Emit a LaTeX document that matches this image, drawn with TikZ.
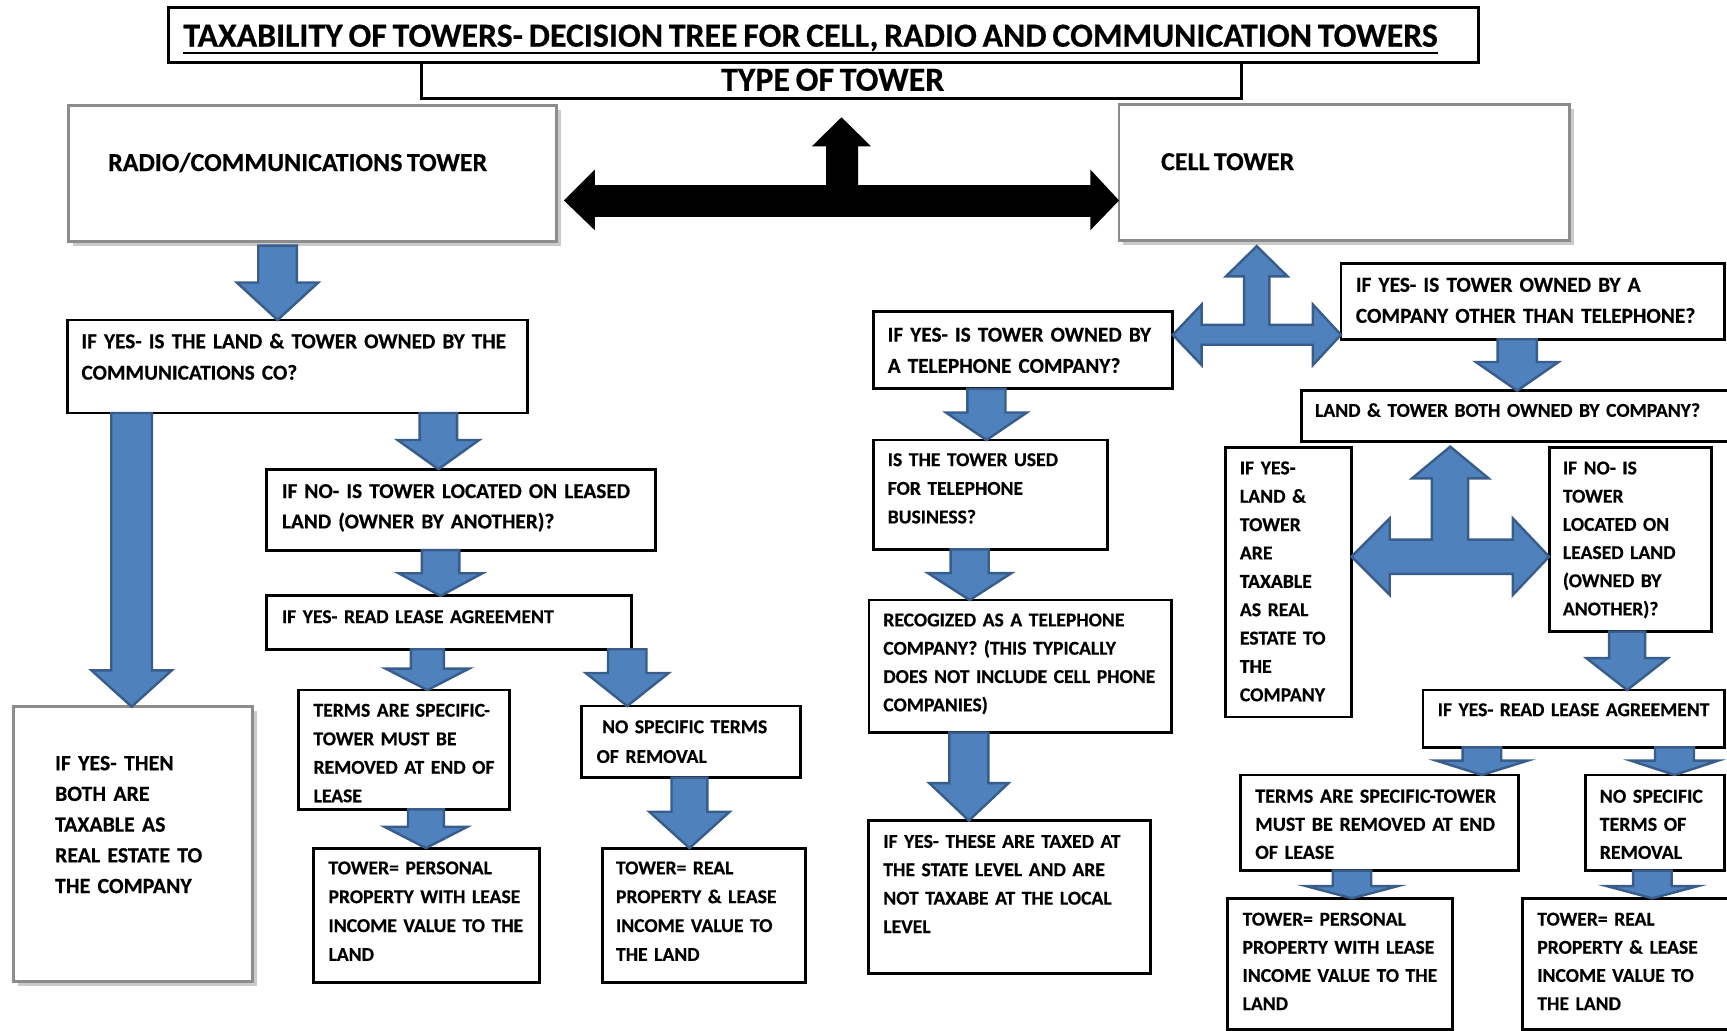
\documentclass[tikz,border=0pt]{standalone}
\usepackage{fontspec}
\setmainfont{Carlito}[BoldFont={Carlito Bold}, WordSpace=0.75, BoldFeatures={FakeBold=0.4}]
\usetikzlibrary{calc,shadows}
\definecolor{arrowblue}{RGB}{79,129,189}
\definecolor{arrowedge}{RGB}{56,93,138}
\newcommand\mkbox[6]{\node[#6, anchor=north west, inner sep=0pt, outer sep=0pt, minimum width={(#4-#2)*1pt}, minimum height={(#5-#3)*1pt}] (#1) at (#2,#3) {};}
% #1 x, #2 from anchor, #3 to anchor, #4 shaft half, #5 head half, #6 head length
\newcommand\vdown[6]{\path[barrow] let \p1=(#2), \p2=(#3) in
  ({(#1-#4)*1pt},\y1) -- ({(#1+#4)*1pt},\y1) -- ({(#1+#4)*1pt},{\y2+#6pt}) -- ({(#1+#5)*1pt},{\y2+#6pt}) -- ({#1*1pt},\y2) -- ({(#1-#5)*1pt},{\y2+#6pt}) -- ({(#1-#4)*1pt},{\y2+#6pt}) -- cycle;}
\tikzset{
  bx/.style={draw=black, line width=2.6pt, fill=white, line join=miter},
  gbx/.style={draw=black!45, line width=2.6pt, fill=white, line join=miter,
     drop shadow={shadow xshift=4pt, shadow yshift=-4pt, fill=black!35, opacity=0.6}},
  txt/.style n args={2}{anchor=base west, inner sep=0pt, outer sep=0pt, text width=420pt, align=left,
     font={\fontsize{#1pt}{#2pt}\selectfont\bfseries}},
  barrow/.style={fill=arrowblue, draw=arrowedge, line width=2.2pt, line join=miter},
}
\begin{document}
\begin{tikzpicture}[x=1pt,y=-1pt]
\useasboundingbox (0,0) rectangle (1568,936);
% ---------- boxes ----------
\mkbox{title}{153}{7}{1342}{57}{bx}
\mkbox{typebox}{383}{57}{1127}{89.5}{bx}
\mkbox{radio}{62}{96}{505}{219}{gbx}
\mkbox{cell}{1016}{95}{1425}{218.5}{gbx}
\mkbox{b1}{61}{290.5}{479}{375}{bx}
\mkbox{b2}{242}{426}{595}{499.5}{bx}
\mkbox{b3}{242}{541}{573.5}{589.5}{bx}
\mkbox{b4}{12.6}{641.6}{229}{891}{gbx}
\mkbox{b5}{271}{626.5}{462.5}{734.8}{bx}
\mkbox{b6}{528}{641}{726.5}{706}{bx}
\mkbox{b7}{284.7}{770}{489.8}{892}{bx}
\mkbox{b8}{546.7}{770}{731.6}{892}{bx}
\mkbox{c1}{793}{283}{1064.8}{353}{bx}
\mkbox{c2}{793}{399.5}{1005.3}{498.8}{bx}
\mkbox{c3}{789}{544.8}{1063.5}{665.2}{bx}
\mkbox{c4}{788.4}{745}{1044.4}{883.7}{bx}
\mkbox{r1}{1217.5}{239}{1565.5}{308}{bx}
\mkbox{r2}{1182}{354.7}{1572}{401}{bx}
\mkbox{r3}{1113}{406}{1227}{651}{bx}
\mkbox{r4}{1406.5}{406}{1553.7}{573.5}{bx}
\mkbox{r5}{1292}{626.5}{1566}{678.5}{bx}
\mkbox{r6}{1126}{703.6}{1379}{790.5}{bx}
\mkbox{r7}{1439.5}{703.6}{1566}{790.5}{bx}
\mkbox{r8}{1114.7}{815.6}{1319}{934.5}{bx}
\mkbox{r9}{1382.3}{815.6}{1572}{934.5}{bx}
% ---------- texts ----------
\node[anchor=base, inner sep=0pt, font={\fontsize{30.7pt}{31pt}\selectfont\bfseries}] (ttl) at (736,42.4)
  {TAXABILITY OF TOWERS- DECISION TREE FOR CELL, RADIO AND COMMUNICATION TOWERS};
\draw[line width=2pt] ([yshift=-5.5pt]ttl.base west) -- ([yshift=-5.5pt]ttl.base east);
\node[anchor=base, inner sep=0pt, font={\fontsize{30.7pt}{31pt}\selectfont\bfseries}] (typet) at (756,82.4) {TYPE OF TOWER};
\node[anchor=base west, inner sep=0pt, font={\fontsize{23.6pt}{24pt}\selectfont\bfseries}] (radiot) at (98,155.3) {RADIO/COMMUNICATIONS TOWER};
\node[anchor=base west, inner sep=0pt, font={\fontsize{23.6pt}{24pt}\selectfont\bfseries}] (cellt) at (1054,154.5) {CELL TOWER};
\node[txt={19.3}{28.5}] (b1t) at (74,316.2) {IF YES- IS THE LAND \& TOWER OWNED BY THE\\COMMUNICATIONS CO?};
\node[txt={19.3}{27.6}] (b2t) at (256,452.2) {IF NO- IS TOWER LOCATED ON LEASED\\LAND (OWNER BY ANOTHER)?};
\node[txt={17.8}{27}] (b3t) at (256,565.7) {IF YES- READ LEASE AGREEMENT};
\node[txt={19.8}{27.9}] (b4t) at (50,699.3) {IF YES- THEN\\BOTH ARE\\TAXABLE AS\\REAL ESTATE TO\\THE COMPANY};
\node[txt={17.8}{25.9}] (b5t) at (284.7,650.7) {TERMS ARE SPECIFIC-\\TOWER MUST BE\\REMOVED AT END OF\\LEASE};
\node[txt={17.8}{27}] (b6t) at (541.7,665.7) {\hspace*{5pt}NO SPECIFIC TERMS\\OF REMOVAL};
\node[txt={17.8}{26.2}] (b7t) at (298.3,793.8) {TOWER= PERSONAL\\PROPERTY WITH LEASE\\INCOME VALUE TO THE\\LAND};
\node[txt={17.8}{26.2}] (b8t) at (559.3,793.8) {TOWER= REAL\\PROPERTY \& LEASE\\INCOME VALUE TO\\THE LAND};
\node[txt={19.3}{28.3}] (c1t) at (806,310.2) {IF YES- IS TOWER OWNED BY\\A TELEPHONE COMPANY?};
\node[txt={17.8}{26}] (c2t) at (806,423.2) {IS THE TOWER USED\\FOR TELEPHONE\\BUSINESS?};
\node[txt={17.8}{25.7}] (c3t) at (802,568.7) {RECOGIZED AS A TELEPHONE\\COMPANY? (THIS TYPICALLY\\DOES NOT INCLUDE CELL PHONE\\COMPANIES)};
\node[txt={17.8}{25.8}] (c4t) at (802,769.7) {IF YES- THESE ARE TAXED AT\\THE STATE LEVEL AND ARE\\NOT TAXABE AT THE LOCAL\\LEVEL};
\node[txt={19.4}{28.2}] (r1t) at (1231,264.9) {IF YES- IS TOWER OWNED BY A\\COMPANY OTHER THAN TELEPHONE?};
\node[txt={17.8}{27}] (r2t) at (1194,378.4) {LAND \& TOWER BOTH OWNED BY COMPANY?};
\node[txt={17.9}{25.75}] (r3t) at (1125.7,430.7) {IF YES-\\LAND \&\\TOWER\\ARE\\TAXABLE\\AS REAL\\ESTATE TO\\THE\\COMPANY};
\node[txt={17.8}{25.6}] (r4t) at (1419,430.7) {IF NO- IS\\TOWER\\LOCATED ON\\LEASED LAND\\(OWNED BY\\ANOTHER)?};
\node[txt={17.8}{27}] (r5t) at (1305.4,650.2) {IF YES- READ LEASE AGREEMENT};
\node[txt={18.2}{25.5}] (r6t) at (1139.7,728.8) {TERMS ARE SPECIFIC-TOWER\\MUST BE REMOVED AT END\\OF LEASE};
\node[txt={18}{25.5}] (r7t) at (1452.5,728.8) {NO SPECIFIC\\TERMS OF\\REMOVAL};
\node[txt={17.8}{25.6}] (r8t) at (1128.2,840.3) {TOWER= PERSONAL\\PROPERTY WITH LEASE\\INCOME VALUE TO THE\\LAND};
\node[txt={17.8}{25.6}] (r9t) at (1395.8,840.3) {TOWER= REAL\\PROPERTY \& LEASE\\INCOME VALUE TO\\THE LAND};
% ---------- black double arrow with up arrow ----------
\path[fill=black] let \p1=([xshift=7pt]radio.east), \p2=(cell.west), \p3=([yshift=-17pt]typebox.south) in
  (\x1,-182pt) -- (540pt,-154pt) -- (540pt,-168pt) -- (750pt,-168pt) -- (750pt,-133pt) -- (737pt,-133pt)
  -- (764pt,\y3) -- (791pt,-133pt) -- (779pt,-133pt) -- (779pt,-168pt) -- (990pt,-168pt) -- (990pt,-154pt)
  -- (\x2,-182pt) -- (990pt,-209pt) -- (990pt,-197pt) -- (540pt,-197pt) -- (540pt,-209pt) -- cycle;
% ---------- blue three-way arrows ----------
\path[barrow] let \p1=(c1.east), \p2=(r1.west), \p3=([yshift=-5pt]cell.south) in
  (1141pt,\y3) -- (1169pt,-251pt) -- (1152.5pt,-251pt) -- (1152.5pt,-295pt) -- (1192pt,-295pt) -- (1192pt,-276.5pt)
  -- (\x2,-304pt) -- (1192pt,-331.5pt) -- (1192pt,-313pt) -- (1091pt,-313pt) -- (1091pt,-331.5pt)
  -- (\x1,-304pt) -- (1091pt,-276.5pt) -- (1091pt,-295pt) -- (1129.5pt,-295pt) -- (1129.5pt,-251pt) -- (1113pt,-251pt) -- cycle;
\path[barrow] let \p1=(r3.east), \p2=(r4.west), \p3=([yshift=-4.5pt]r2.south) in
  (1316.7pt,\y3) -- (1351.5pt,-434.3pt) -- (1333pt,-434.3pt) -- (1333pt,-490pt) -- (1373.5pt,-490pt) -- (1373.5pt,-470.6pt)
  -- (\x2,-505.4pt) -- (1373.5pt,-540.2pt) -- (1373.5pt,-521pt) -- (1261.8pt,-521pt) -- (1261.8pt,-540.2pt)
  -- (\x1,-505.4pt) -- (1261.8pt,-470.6pt) -- (1261.8pt,-490pt) -- (1300pt,-490pt) -- (1300pt,-434.3pt) -- (1282pt,-434.3pt) -- cycle;
% ---------- blue down arrows ----------
\vdown{252}{[yshift=-4pt]radio.south}{b1.north}{17.5}{37}{34}
\vdown{119.5}{b1.south}{b4.north}{18.5}{36.5}{33}
\vdown{398}{b1.south}{b2.north}{17}{37}{26.5}
\vdown{400}{b2.south}{b3.north}{17}{38}{20.5}
\vdown{388}{b3.south}{b5.north}{15}{38}{19.5}
\vdown{569.5}{b3.south}{b6.north}{17.5}{37.7}{30}
\vdown{386.7}{b5.south}{b7.north}{16.3}{37.7}{19.4}
\vdown{626}{b6.south}{b8.north}{16.3}{36.5}{33}
\vdown{895.6}{c1.south}{c2.north}{17.3}{36.8}{25}
\vdown{880.4}{c2.south}{c3.north}{17.3}{38}{24.5}
\vdown{879.7}{c3.south}{c4.north}{17.7}{36}{34}
\vdown{1377.5}{r1.south}{r2.north}{17.8}{37.5}{26}
\vdown{1477.3}{r4.south}{r5.north}{16.3}{37}{29}
\vdown{1345.5}{r5.south}{r6.north}{17.5}{41.5}{13}
\vdown{1520.3}{r5.south}{r7.north}{17.7}{39.7}{13}
\vdown{1227.5}{r6.south}{r8.north}{17.5}{41.3}{11}
\vdown{1500.2}{r7.south}{r9.north}{17.5}{41}{11}
\end{tikzpicture}
\end{document}
